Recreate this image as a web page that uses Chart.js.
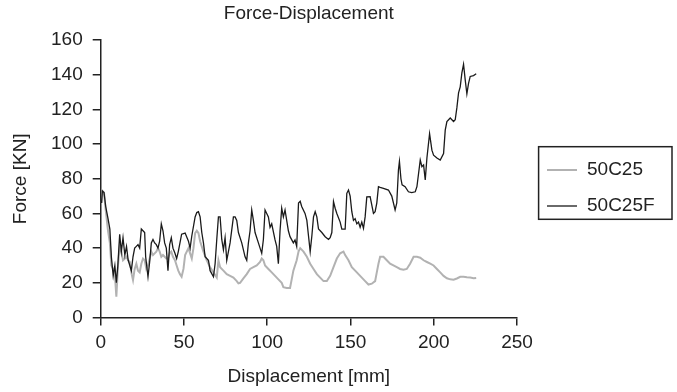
<!DOCTYPE html>
<html><head><meta charset="utf-8">
<script src="https://cdn.jsdelivr.net/npm/chart.js@4.4.1/dist/chart.umd.min.js"></script>
<style>html,body{margin:0;padding:0;background:#fff;}canvas{display:block;}</style>
</head><body>
<canvas id="c" width="677" height="392"></canvas>
<script>
const chartTitle = 'Force-Displacement';
const xAxisTitle = 'Displacement [mm]';
const yAxisTitle = 'Force [KN]';
const seriesLabels = ['50C25', '50C25F'];
const xTickValues = [0, 50, 100, 150, 200, 250];
const yTickValues = [0, 20, 40, 60, 80, 100, 120, 140, 160];

const disp50C25 = [0.5,1,2,3,4.4,5.5,6.4,7.5,8.5,9.4,10.4,11.4,12.4,13.4,14.5,15.5,16.5,17.5,18.6,19.4,20.4,21.4,22.4,23.4,24.4,25.4,26.4,27.4,28.4,29.4,30.4,31.4,32.4,33.4,34.4,35.4,36.4,37.4,38.4,39.4,40.4,41.4,42.4,43.4,44.6,45.6,46.6,47.6,48.6,49.7,50.7,52.7,53.7,54.7,55.7,56.7,57.7,58.7,59.7,61.7,63.7,65.7,67.7,69.7,70.7,71.7,73.7,75.7,77.7,79.7,81.7,82.7,83.7,85.7,87.7,89.7,91.7,93.7,95.7,96.7,97.7,98.7,100.7,102.7,104.7,106.7,108.7,109.7,111.7,113.7,114.7,115.7,117.7,118.8,119.8,121.8,123.8,125.8,127.8,129.8,131.8,133.8,135.8,137.8,139.8,141.8,143.8,145.8,146.8,148.8,150.8,152.8,154.8,156.8,158.8,160.8,162.8,164.8,165.8,166.8,167.8,169.8,171.8,173.8,175.8,177.8,179.8,181.8,183.8,185.8,187.9,189.9,191.9,193.9,195.9,197.9,199.9,201.9,203.9,205.9,207.9,209.9,211.9,213.9,215.9,217.9,219.9,221.9,223.9,225.5];
const force50C25 = [66,73,72,62,50,43,30,28,25,12,30,41,38,33,34,35,33,32,25,21.6,28,31,27,26,31,34,33,28,30,34,38,36,37,38,40,38,35,36,35,34,34,37,38,35,33,30,27,25,23.5,28,36,40,37,34,40,48.7,50,48.7,44,38,33,29,26,23,33,29,27,25,24,23,21,19.7,20,22.5,25,28,29,30,32,34,33,30,28,26,24,22,20,17.5,17,17,22,27,33,38,40,38,35,31,28,25,23,21,21,24,29,34,37,38,36,33,29,27,25,23,21,19,19.5,21,26,31,35,35,33,31,30,29,28,27.5,28,31,35,35,34.5,33,32,31,30,28,26,24,22.6,22,21.8,22.5,23.5,23.5,23.2,23,22.6,22.8];

const disp50C25F = [0.5,1,2,3,4.4,5.5,6.4,7.5,8.5,9.4,10.3,11.4,12.4,13.4,14.5,15.5,16.5,17.5,18.4,19.4,20.4,21.4,22.4,23.4,24.4,25.4,26.4,27,28.4,29.4,30.4,31.4,32.4,33.4,34.4,35.4,36.4,37.4,38.4,39.4,40.4,41.4,42.4,43.4,44.6,45.6,46.6,47.6,48.6,50.7,52.7,53.7,54.7,56.7,57.7,58.7,59.7,60.7,61.7,62.7,64.7,65.7,67.7,68.7,69.7,70.7,71.7,72.7,73.7,74.7,75.7,77.7,79.7,80.7,81.7,82.7,84.7,86.7,87.7,88.7,89.7,90.7,91.7,92.7,94.7,96.7,97.7,98.7,99.7,100.7,101.7,102.7,104.7,105.7,106.7,107.7,108.7,109.7,110.7,112.7,113.7,115.7,116.7,117.7,118.8,119.8,120.7,122.7,123.8,124.8,125.8,126.8,127.8,128.8,129.8,130.8,132.8,134.8,136.8,137.8,138.8,139.8,140.8,141.8,143.8,144.8,146.8,147.8,148.8,149.8,150.8,151.8,152.8,153.8,154.8,155.8,156.8,157.8,158.8,159.8,161.8,163.8,164.8,165.8,166.8,167.8,169.8,172.8,174.8,176.8,177.8,178.8,179.4,180.3,181,182.8,184.8,186.8,188.9,189.9,191.9,192.9,193.9,194.9,195.9,197.5,198.9,199.9,201.9,203.9,205.9,206.9,207.9,209.9,211.9,212.9,213.9,214.9,215.9,216.9,217.9,218.9,219.9,220.9,221.9,223.9,225.5];
const force50C25F = [66,73,72,64,57,51,35,24,30,20,30,48,38,46,36,41,33,30,27,35,40,41,42,40,51,50,49,35,23.5,32,43,45,43,42,40,44,54,50,43,40,27,42,46,40,37,34,38,43,48,48.7,44,40,47,58,60.5,61,58,49,43,35,33,27,23.5,31,45,58,58,45,39,46,33,43,58,58,56,49,43,35,33,43,50,62,56,49,43,37,45,62,60,58,52,54,44.7,41,31,50,63,58,62,50,46.6,43,44.7,41,66,67,64,60,56,47,38,47,58,61,58,51,49,46.6,45,46,49,66.8,63,60,55,51,51,71.6,73.5,70,61,56,57,54,55,52,55,51.4,58,69.5,69.7,60,61,66,75.4,75,74.5,73.5,70,62,66,85,90,80,76.5,75.4,72.5,72,72.5,75.4,90.8,87,88,79.3,92,106,96.5,93.6,92,90.8,94.5,108,113,115,113,114,121,129.5,133,141,146,137,129,135,139,139.5,140.5];

const FONT = '"Liberation Sans", Arial, Helvetica, sans-serif';
const TEXT = '#222';

function pts(xs, ys) { return xs.map((x, i) => ({x: x, y: ys[i]})); }

const boxLegend = {
  id: 'boxLegend',
  afterDraw(chart) {
    const ctx = chart.ctx;
    const ca = chart.chartArea;
    const x0 = ca.right + 21.6, y0 = 146.7, w = 133.4, h = 72.6;
    ctx.save();
    ctx.strokeStyle = TEXT; ctx.lineWidth = 1.5;
    ctx.strokeRect(x0, y0, w, h);
    ctx.font = '19px ' + FONT;
    ctx.textBaseline = 'middle'; ctx.textAlign = 'left';
    chart.data.datasets.forEach((ds, i) => {
      const y = y0 + 23.3 + i * 36;
      ctx.strokeStyle = ds.borderColor; ctx.lineWidth = ds.borderWidth;
      ctx.beginPath(); ctx.moveTo(x0 + 8.4, y); ctx.lineTo(x0 + 38.4, y); ctx.stroke();
      ctx.fillStyle = TEXT;
      ctx.fillText(ds.label, x0 + 48.4, y);
    });
    ctx.restore();
  }
};

new Chart(document.getElementById('c'), {
  type: 'line',
  data: {
    datasets: [
      { label: seriesLabels[0], data: pts(disp50C25, force50C25), borderColor: '#b2b2b2', borderWidth: 2, pointRadius: 0, tension: 0, order: 1 },
      { label: seriesLabels[1], data: pts(disp50C25F, force50C25F), borderColor: '#1a1a1a', borderWidth: 1.3, pointRadius: 0, tension: 0, order: 0 }
    ]
  },
  options: {
    responsive: false,
    animation: false,
    devicePixelRatio: 1,
    layout: { padding: { left: 0, right: 160, top: 0, bottom: 0 } },
    plugins: {
      legend: { display: false },
      tooltip: { enabled: false },
      title: {
        display: true, text: chartTitle, fullSize: false, color: TEXT,
        font: { family: FONT, size: 19, weight: 'normal' },
        padding: { top: 2.6, bottom: 14.6 }
      }
    },
    scales: {
      x: {
        type: 'linear', min: xTickValues[0], max: xTickValues[xTickValues.length - 1],
        afterBuildTicks: (s) => { s.ticks = xTickValues.map(v => ({value: v})); },
        afterFit: (s) => { s.height = 74.5; },
        ticks: { color: TEXT, font: { family: FONT, size: 19 }, padding: 6, maxRotation: 0, autoSkip: false },
        grid: { display: true, drawOnChartArea: false, drawTicks: true, tickLength: 8, color: TEXT, lineWidth: 1.5 },
        border: { display: true, color: TEXT, width: 1.5 },
        title: { display: true, text: xAxisTitle, color: TEXT, font: { family: FONT, size: 19 }, padding: { top: 0, bottom: 3.6 } }
      },
      y: {
        type: 'linear', min: yTickValues[0], max: yTickValues[yTickValues.length - 1],
        afterBuildTicks: (s) => { s.ticks = yTickValues.map(v => ({value: v})); },
        afterFit: (s) => { s.width = 100.7; },
        ticks: { color: TEXT, font: { family: FONT, size: 19 }, padding: 10, autoSkip: false },
        grid: { display: true, drawOnChartArea: false, drawTicks: true, tickLength: 8, color: TEXT, lineWidth: 1.5 },
        border: { display: true, color: TEXT, width: 1.5 },
        title: { display: true, text: yAxisTitle, color: TEXT, font: { family: FONT, size: 19 }, padding: { top: 9.6, bottom: 0 } }
      }
    }
  },
  plugins: [boxLegend]
});
</script>
</body></html>
